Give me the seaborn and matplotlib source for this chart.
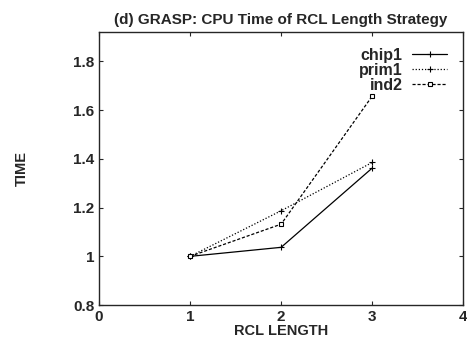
import pandas as pd
import matplotlib
matplotlib.use('Agg')
import matplotlib.pyplot as plt
import seaborn as sns

# Datos
rcl_length = [1, 2, 3]
chip1 = [1.0, 1.037, 1.362]
prim1 = [1.0, 1.187, 1.385]
ind2 = [1.0, 1.132, 1.657]
series = ['chip1', 'prim1', 'ind2']

df = pd.DataFrame({
    'rcl': rcl_length * 3,
    'time': chip1 + prim1 + ind2,
    'serie': ['chip1'] * 3 + ['prim1'] * 3 + ['ind2'] * 3,
})

sns.set_style('ticks')
plt.rcParams['font.family'] = ['Liberation Sans', 'DejaVu Sans']
plt.rcParams['font.weight'] = 'bold'

fig = plt.figure(figsize=(4.67, 3.44), dpi=100)
ax = fig.add_axes([0.212, 0.113, 0.78, 0.794])

estilos = {
    'chip1': dict(ls='-', marker='+', ms=4),
    'prim1': dict(ls=(0, (1, 1.5)), marker='+', ms=5),
    'ind2': dict(ls=(0, (2.5, 1.5)), marker='s', ms=3),
}
for nombre in series:
    sub = df[df['serie'] == nombre]
    sns.lineplot(data=sub, x='rcl', y='time', ax=ax, color='black',
                 linewidth=0.9, label=nombre)
    ln = ax.lines[-1]
    e = estilos[nombre]
    ln.set_linestyle(e['ls'])
    ln.set_marker(e['marker'])
    ln.set_markersize(e['ms'])
    ln.set_markeredgewidth(0.8)
    ln.set_markeredgecolor('black')
    ln.set_markerfacecolor('white')

ax.set_xlim(0, 4)
ax.set_ylim(0.8, 1.92)
ax.set_xticks([0, 1, 2, 3, 4])
ax.set_yticks([0.8, 1.0, 1.2, 1.4, 1.6, 1.8])
ax.set_yticklabels(['0.8', '1', '1.2', '1.4', '1.6', '1.8'])
ax.tick_params(direction='in', top=True, right=True, length=3,
               labelsize=11, width=0.8)
for s in ax.spines.values():
    s.set_linewidth(1.0)

ax.set_xlabel('RCL LENGTH', fontsize=10.5, fontweight='bold', labelpad=0)
ax.set_ylabel('TIME', fontsize=10.5, fontweight='bold', labelpad=32)
ax.set_title('(d) GRASP: CPU Time of RCL Length Strategy', fontsize=11,
             fontweight='bold', pad=6)

leg = ax.legend(loc='upper right', frameon=False, markerfirst=False,
                fontsize=11.5, handlelength=2.2, borderaxespad=0.6,
                labelspacing=0.0, handletextpad=0.6)
for t in leg.get_texts():
    t.set_ha('right')
    t.set_fontweight('bold')

fig.savefig('out.png', dpi=100)
